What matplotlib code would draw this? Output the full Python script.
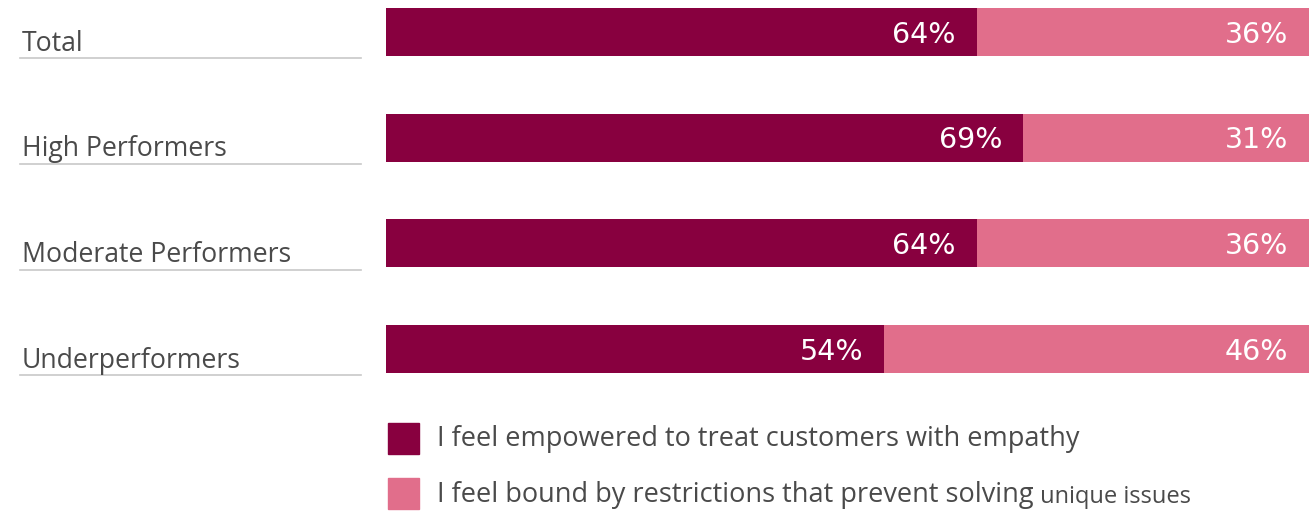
import matplotlib
matplotlib.use("Agg")
from matplotlib import pyplot as plt
from matplotlib.patches import Rectangle
import matplotlib.transforms as mtransforms

plt.rcParams['font.family'] = ['Open Sans', 'DejaVu Sans']

groups = ["Total", "High Performers", "Moderate Performers", "Underperformers"]
empowered = [64, 69, 64, 54]
bound = [36, 31, 36, 46]

dark = "#88003f"
pink = "#e16e8b"
text_grey = "#4a4a4a"

fig = plt.figure(figsize=(13.13, 5.13), dpi=100)
ax = fig.add_axes([386 / 1313, 1 - 373 / 513, 923 / 1313, 365 / 513])

h = 0.455
ypos = list(range(len(groups)))
ax.barh(ypos, empowered, height=h, color=dark)
ax.barh(ypos, bound, left=empowered, height=h, color=pink)

ax.set_xlim(0, 100)
ax.set_ylim(3 + h / 2, -h / 2)
ax.axis("off")

# value labels, right aligned inside each segment
for y, a, b in zip(ypos, empowered, bound):
    for val, end in ((a, a), (b, a + b)):
        ax.annotate(f"{val}%", xy=(end, y), xytext=(-15, -2), textcoords="offset points",
                    ha="right", va="center", color="white", fontsize=20.5,
                    family="DejaVu Sans")

# category labels with underline on the left
trans = mtransforms.blended_transform_factory(fig.transFigure, ax.transData)
for y, name in zip(ypos, groups):
    ax.text(22 / 1313, y + 0.11, name, transform=trans, ha="left", va="center",
            fontsize=19.2, color=text_grey, clip_on=False)
    ax.plot([20 / 1313, 361 / 1313], [y + 0.25, y + 0.25], transform=trans,
            color="#c8c8c8", lw=1.2, clip_on=False)

# legend drawn by hand
sq_w, sq_h = 31 / 1313, 31 / 513
fig.add_artist(Rectangle((388 / 1313, 1 - 454 / 513), sq_w, sq_h,
                         transform=fig.transFigure, color=dark))
fig.add_artist(Rectangle((388 / 1313, 1 - 509 / 513), sq_w, sq_h,
                         transform=fig.transFigure, color=pink))
fig.text(437 / 1313, 1 - 439 / 513, "I feel empowered to treat customers with empathy",
         ha="left", va="center", fontsize=19.5, color=text_grey)
t2 = fig.text(437 / 1313, 1 - 495 / 513, "I feel bound by restrictions that prevent solving",
              ha="left", va="center", fontsize=19.5, color=text_grey)
ax.annotate(" unique issues", xy=(1, 0), xycoords=t2, ha="left", va="bottom",
            fontsize=17, color=text_grey, annotation_clip=False)

fig.savefig("out.png", dpi=100)
